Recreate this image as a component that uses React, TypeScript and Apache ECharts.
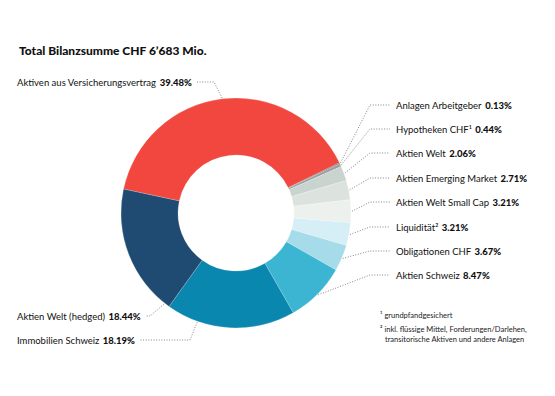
import React, { useEffect, useRef } from 'react';
import * as echarts from 'echarts';

const title = 'Total Bilanzsumme CHF 6’683 Mio.';
const categories = [
  'Aktiven aus Versicherungsvertrag',
  'Anlagen Arbeitgeber',
  'Hypotheken CHF¹',
  'Aktien Welt',
  'Aktien Emerging Market',
  'Aktien Welt Small Cap',
  'Liquidität²',
  'Obligationen CHF',
  'Aktien Schweiz',
  'Immobilien Schweiz',
  'Aktien Welt (hedged)',
];
const shares = [39.48, 0.13, 0.44, 2.06, 2.71, 3.21, 3.21, 3.67, 8.47, 18.19, 18.44];
const colors = [
  '#f1473e', '#5b5b5b', '#9c9f9e', '#c9d3cf', '#dce2de', '#edf1ee',
  '#d6eef6', '#a6dbea', '#3bb5d1', '#0a87ae', '#1f4a72',
];
const footnotes = [
  '¹ grundpfandgesichert',
  '² inkl. flüssige Mittel, Forderungen/Darlehen,',
  'transitorische Aktiven und andere Anlagen',
];

// layout (not data)
const FONT = 'Lato, "Noto Sans", sans-serif';
const CX = 236, CY = 213, R0 = 58, R1 = 115, START = 168;
const labelY = [82, 105, 129, 153, 178, 202, 227, 251, 275, 340, 316];
const labelSide = ['L', 'R', 'R', 'R', 'R', 'R', 'R', 'R', 'R', 'L', 'L'];
const cornerX = [214, 370, 370, 370, 370, 370, 370, 370, 370, 190, 150];
const anchorFrac = [0.5, 0.5, 0.5, 0.5, 0.5, 0.5, 0.5, 0.5, 0.5, 0.755, 0.04];

export default function App() {
  const ref = useRef<HTMLDivElement>(null);
  useEffect(() => {
    document.body.style.margin = '0';
    const chart = echarts.init(ref.current!, null, { renderer: 'svg' });
    const total = shares.reduce((a, b) => a + b, 0);
    const cum: number[] = [];
    shares.reduce((acc, v, i) => { cum[i] = acc; return acc + v; }, 0);

    chart.setOption({
      animation: false,
      backgroundColor: '#fff',
      title: {
        text: title,
        left: 19,
        top: 44,
        padding: 0,
        textStyle: { fontFamily: FONT, fontSize: 12, fontWeight: 900, color: '#111' },
      },
      graphic: footnotes.map((t, i) => ({
        type: 'text',
        left: i === 2 ? 385 : 380,
        top: [311, 325, 335][i],
        style: { text: t, fontFamily: FONT, fontSize: 7.5, fill: '#222' },
      })),
      series: [
        {
          type: 'pie',
          center: [CX, CY],
          radius: [R0, R1],
          startAngle: START,
          clockwise: true,
          avoidLabelOverlap: false,
          itemStyle: { borderColor: 'rgba(255,255,255,0.5)', borderWidth: 0.4 },
          data: categories.map((name, i) => ({
            name,
            value: shares[i],
            itemStyle: { color: colors[i] },
          })),
          label: {
            show: true,
            position: 'outside',
            formatter: (p: any) => `{n|${p.name}} {b|${shares[p.dataIndex].toFixed(2)}%}`,
            rich: {
              n: { fontFamily: FONT, fontSize: 9.5, color: '#111' },
              b: { fontFamily: FONT, fontSize: 9.5, fontWeight: 900, color: '#111' },
            },
          },
          labelLine: {
            show: true,
            lineStyle: { color: '#777', width: 0.9, type: [1, 1.6] },
          },
          labelLayout: (params: any) => {
            const i = params.dataIndex;
            const a = ((START - (360 * (cum[i] + anchorFrac[i] * shares[i])) / total) * Math.PI) / 180;
            const anchor = [CX + (R1 + 1) * Math.cos(a), CY - (R1 + 1) * Math.sin(a)];
            const y = labelY[i];
            if (labelSide[i] === 'R') {
              return {
                x: 396, y, align: 'left', verticalAlign: 'middle',
                labelLinePoints: [anchor, [cornerX[i], y], [390, y]],
              };
            }
            const w = params.labelRect.width;
            return {
              x: 17, y, align: 'left', verticalAlign: 'middle',
              labelLinePoints: [anchor, [cornerX[i], y], [17 + w + 5, y]],
            };
          },
        },
      ],
    });
    return () => chart.dispose();
  }, []);
  return <div ref={ref} style={{ width: 555, height: 396 }} />;
}
